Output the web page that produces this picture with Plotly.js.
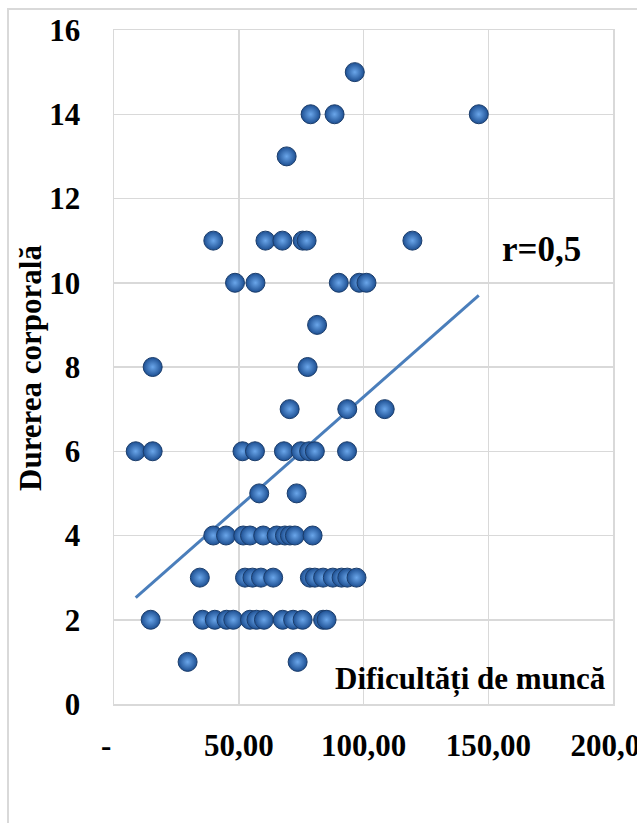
<!DOCTYPE html>
<html>
<head>
<meta charset="utf-8">
<script src="https://cdn.plot.ly/plotly-3.0.1.min.js"></script>
<style>
  html, body { margin: 0; padding: 0; overflow: hidden; background: #ffffff; }
  #frame { position: absolute; left: 7px; top: 8px; width: 2000px; height: 2000px;
           border-left: 2px solid #d9d9d9; border-top: 2px solid #d9d9d9; }
  #chart { position: absolute; left: 0; top: 0; width: 700px; height: 900px; }
  #chart .xtick text, #chart .ytick text { font-weight: 700 !important; }
</style>
</head>
<body>
<div id="frame"></div>
<div id="chart"></div>
<script>
// Dificultăți de muncă (x) vs Durerea corporală (y)
const xVals = [
  96.5,
  78.8, 88.4, 146.2,
  69.2,
  39.8, 60.7, 67.5, 75.6, 77.2, 119.6,
  48.5, 56.7, 90.1, 98.3, 101.2,
  81.4,
  15.5, 77.6,
  70.4, 93.5, 108.5,
  8.7, 15.5, 51.5, 56.5, 68.1, 74.9, 78.2, 80.5, 93.4,
  58.2, 73.2,
  39.8, 44.9, 51.8, 54.5, 59.8, 65.2, 68.5, 70.5, 72.5, 79.6,
  34.4, 52.5, 55.5, 58.9, 63.8, 78.5, 80.5, 83.8, 87.7, 91.2, 93.5, 97.2,
  14.7, 35.5, 40.4, 45.1, 47.8, 54.5, 57.1, 60.1, 67.6, 71.8, 75.6, 83.8, 85.2,
  29.5, 73.6
];
const yVals = [
  15,
  14, 14, 14,
  13,
  11, 11, 11, 11, 11, 11,
  10, 10, 10, 10, 10,
  9,
  8, 8,
  7, 7, 7,
  6, 6, 6, 6, 6, 6, 6, 6, 6,
  5, 5,
  4, 4, 4, 4, 4, 4, 4, 4, 4, 4,
  3, 3, 3, 3, 3, 3, 3, 3, 3, 3, 3, 3,
  2, 2, 2, 2, 2, 2, 2, 2, 2, 2, 2, 2, 2,
  1, 1
];
// linear trend line
const trendSlope = 0.0522;
const trendIntercept = 2.07;
const correlationLabel = 'r=0,5';

const xTickVals = [0, 50, 100, 150, 200];
const xTickText = ['-\u00a0\u00a0', '50,00', '100,00', '150,00', '200,00'];
const yTickVals = [0, 2, 4, 6, 8, 10, 12, 14, 16];
const yTickText = ['0', '2', '4', '6', '8', '10', '12', '14', '16'];
const xTitle = 'Dificultăți de muncă';
const yTitle = 'Durerea corporală';

const xMin = Math.min(...xVals), xMax = Math.max(...xVals);
const trendX = [xMin, xMax];
const trendY = trendX.map(v => trendIntercept + trendSlope * v);

const W = 700, H = 900;
const mL = 114, mR = 87, mT = 30, mB = 196;
const pw = W - mL - mR, ph = H - mT - mB;
const px = p => (p - mL) / pw;
const py = p => (H - mB - p) / ph;
const bold = s => '<b>' + s + '</b>';

const serif = 'Liberation Serif';

const traces = [
  {
    x: trendX, y: trendY, type: 'scatter', mode: 'lines',
    line: { color: '#4a7ebb', width: 3 }, hoverinfo: 'skip'
  },
  {
    x: xVals, y: yVals, type: 'scatter', mode: 'markers',
    marker: {
      size: 19, color: '#1d4f92',
      gradient: { type: 'radial', color: '#6aa6ea' },
      line: { color: '#1b3d6b', width: 1 }
    },
    hoverinfo: 'skip'
  }
];

const layout = {
  width: W, height: H,
  margin: { l: mL, r: mR, t: mT, b: mB },
  paper_bgcolor: 'rgba(0,0,0,0)', plot_bgcolor: '#ffffff',
  showlegend: false,
  font: { family: serif, color: '#000000' },
  xaxis: {
    range: [0, 200], tickvals: xTickVals, ticktext: xTickText,
    showgrid: true, gridcolor: '#d9d9d9', gridwidth: 1.5,
    zeroline: false, showline: true, mirror: true, linecolor: '#d9d9d9', linewidth: 1.5,
    ticks: 'outside', ticklen: 13, tickcolor: 'rgba(0,0,0,0)',
    ticklabeloverflow: 'allow',
    tickfont: { family: serif, size: 31, color: '#000000', weight: 700 }
  },
  yaxis: {
    range: [0, 16], tickvals: yTickVals, ticktext: yTickText,
    showgrid: true, gridcolor: '#d9d9d9', gridwidth: 1.5,
    zeroline: false, showline: true, mirror: true, linecolor: '#d9d9d9', linewidth: 1.5,
    ticks: 'outside', ticklen: 26, tickcolor: 'rgba(0,0,0,0)',
    tickfont: { family: serif, size: 31, color: '#000000', weight: 700 }
  },
  annotations: [
    {
      text: bold(xTitle), xref: 'paper', yref: 'paper',
      x: px(608), y: py(679), xanchor: 'right', yanchor: 'middle',
      showarrow: false, font: { family: serif, size: 31, color: '#000000' }
    },
    {
      text: bold(yTitle), xref: 'paper', yref: 'paper',
      x: px(30), y: py(368), xanchor: 'center', yanchor: 'middle', textangle: -90,
      showarrow: false, font: { family: serif, size: 31, color: '#000000' }
    },
    {
      text: bold(correlationLabel), xref: 'paper', yref: 'paper',
      x: px(541), y: py(250), xanchor: 'center', yanchor: 'middle',
      showarrow: false, font: { family: serif, size: 35, color: '#000000' }
    }
  ]
};

Plotly.newPlot('chart', traces, layout, { staticPlot: true, displayModeBar: false });
</script>
</body>
</html>
